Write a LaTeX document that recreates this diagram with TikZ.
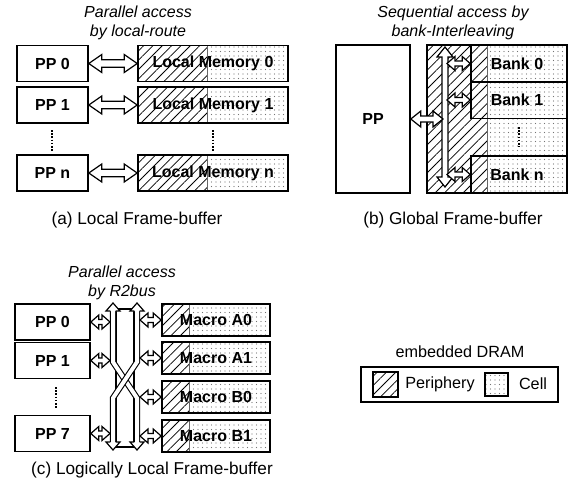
\documentclass[tikz,border=0pt]{standalone}
\usepackage{fontspec}
\setmainfont{Liberation Sans}
\usetikzlibrary{patterns.meta,calc}
\newcommand\myboxfont{\bfseries\fontsize{16}{19}\selectfont}
\newcommand\mytitfont{\itshape\fontsize{16}{19}\selectfont}
\newcommand\mycapfont{\fontsize{17.2}{20}\selectfont}
\newcommand\mytxtfont{\fontsize{16.2}{19}\selectfont}
% horizontal hollow double arrow: from #1 to #2, shaft half #3, head half #4, head length #5
\newcommand\harr[5]{\path[arrline] let \p1=(#1), \p2=(#2) in
  (\x1,\y1) -- (\x1+#5,\y1+#4) -- (\x1+#5,\y1+#3) -- (\x2-#5,\y1+#3) -- (\x2-#5,\y1+#4) -- (\x2,\y1)
  -- (\x2-#5,\y1-#4) -- (\x2-#5,\y1-#3) -- (\x1+#5,\y1-#3) -- (\x1+#5,\y1-#4) -- cycle;}
% vertical hollow double arrow: from top #1 to bottom #2
\newcommand\varr[5]{\path[arrline] let \p1=(#1), \p2=(#2) in
  (\x1,\y1) -- (\x1+#4,\y1-#5) -- (\x1+#3,\y1-#5) -- (\x1+#3,\y2+#5) -- (\x1+#4,\y2+#5) -- (\x1,\y2)
  -- (\x1-#4,\y2+#5) -- (\x1-#3,\y2+#5) -- (\x1-#3,\y1-#5) -- (\x1-#4,\y1-#5) -- cycle;}
\newcommand\uphead[1]{\filldraw[arrline] let \p1=(#1) in (\x1-2.6pt,\y1-8pt) -- (\x1-7pt,\y1-8pt) -- (\x1,\y1) -- (\x1+7pt,\y1-8pt) -- (\x1+2.6pt,\y1-8pt);}
\newcommand\downhead[1]{\filldraw[arrline] let \p1=(#1) in (\x1-2.6pt,\y1+8pt) -- (\x1-7pt,\y1+8pt) -- (\x1,\y1) -- (\x1+7pt,\y1+8pt) -- (\x1+2.6pt,\y1+8pt);}
\tikzset{
  box/.style={draw, line width=1.6pt, inner sep=0pt, font=\myboxfont},
  hatchfill/.style={pattern={Lines[angle=45,distance=6.6pt,line width=0.8pt]}},
  dotfill/.style={pattern={Dots[distance=4.5pt,radius=0.6pt]}, pattern color=black!55},
  arrline/.style={draw, fill=white, line width=1.2pt, line join=miter},
  vdots/.style={line width=2pt, dash pattern=on 1.6pt off 1.6pt},
  sepline/.style={line width=0.5pt, black!60},
  titletext/.style={font=\mytitfont, align=center},
  captext/.style={font=\mycapfont},
  plaintext/.style={font=\mytxtfont},
  busline/.style={line width=1.1pt, double=white, double distance=4pt},
}
\begin{document}
\begin{tikzpicture}[x=1pt,y=-1pt]
\useasboundingbox (0,0) rectangle (568,488);
% ---------------- (a) ----------------
\node[titletext] (ta) at (138,22.5) {Parallel access\\by local-route};
\foreach \i/\yc in {0/63.5,1/105,n/173}{
  \fill[hatchfill] (138,\yc-18) rectangle (207,\yc+18);
  \fill[dotfill] (207,\yc-18) rectangle (288,\yc+18);
  \draw[sepline] (207,\yc-18) -- (207,\yc+18);
  \node[box, minimum width=71pt, minimum height=36pt] (pa\i) at (52.5,\yc) {PP \i};
  \node[box, minimum width=150pt, minimum height=36pt] (ma\i) at (213,\yc) {Local Memory \i};
  \harr{pa\i.east}{ma\i.west}{3.7pt}{9pt}{13pt}
}
\draw[vdots] (52,130) -- (52,152);
\draw[vdots] (213,130) -- (213,152);
\node[captext] (ca) at (137,220) {(a) Local Frame-buffer};
% ---------------- (b) ----------------
\node[titletext] (tb) at (453,22.5) {Sequential access by\\bank-Interleaving};
\node[box, minimum width=74pt, minimum height=148pt] (ppb) at (373,119) {PP};
\fill[hatchfill] (427,45) rectangle (487,193);
\fill[dotfill] (487,45) rectangle (567,193);
\draw[sepline] (487,45) -- (487,193);
\node[box, minimum width=140pt, minimum height=148pt] (gfb) at (497,119) {};
\foreach \i/\yc in {0/63.5,1/100,n/174.5}{
  \node[box, minimum width=96pt, minimum height=37pt] (bank\i) at (519,\yc) {};
  \node[font=\myboxfont] (bl\i) at (517,\yc) {Bank \i};
}
\draw[vdots] (519,127) -- (519,147);
\coordinate (vt) at (445,47);
\coordinate (vb) at (445,187);
\varr{vt}{vb}{3pt}{8pt}{10pt}
\coordinate (vpp) at (443,119);
\harr{ppb.east}{vpp}{3pt}{8pt}{10pt}
\foreach \i in {0,1,n}{
  \coordinate (vb\i) at (bank\i.west -| 447,0);
  \harr{vb\i}{bank\i.west}{2.5pt}{7pt}{8pt}
}
\node[captext] (cb) at (453,220) {(b) Global Frame-buffer};
% ---------------- (c) ----------------
\node[titletext] (tc) at (122,283) {Parallel access\\by R2bus};
\foreach \i/\yc in {0/322,1/360.5,7/433.5}{
  \node[box, minimum width=75pt, minimum height=36pt] (pc\i) at (52.5,\yc) {PP \i};
}
\draw[vdots] (56,387) -- (56,408);
\foreach \m/\yc in {A0/320,A1/358,B0/397,B1/436}{
  \fill[hatchfill] (162,\yc-15.75) rectangle (189,\yc+15.75);
  \fill[dotfill] (189,\yc-15.75) rectangle (270,\yc+15.75);
  \draw[sepline] (189,\yc-15.75) -- (189,\yc+15.75);
  \node[box, minimum width=108pt, minimum height=31.5pt] (mc\m) at (216,\yc) {Macro \m};
}
\node[draw, fill=white, line width=1.2pt, minimum width=18pt, minimum height=138pt, inner sep=0pt] (bus) at (125,378) {};
\draw[busline] (113,310) -- (113,362) -- (137,398) -- (137,443);
\draw[busline] (137,310) -- (137,362) -- (113,398) -- (113,443);
\coordinate (bt1) at (113,303); \coordinate (bt2) at (137,303);
\coordinate (bb1) at (113,450); \coordinate (bb2) at (137,450);
\uphead{bt1} \uphead{bt2} \downhead{bb1} \downhead{bb2}
\foreach \i in {0,1,7}{
  \coordinate (cl\i) at (pc\i.east -| 110,0);
  \harr{pc\i.east}{cl\i}{2.5pt}{7pt}{8pt}
}
\foreach \m in {A0,A1,B0,B1}{
  \coordinate (cr\m) at (mc\m.west -| 140,0);
  \harr{cr\m}{mc\m.west}{2.5pt}{7pt}{8pt}
}
\node[captext] (cc) at (152,470) {(c) Logically Local Frame-buffer};
% ---------------- legend ----------------
\node[plaintext] (legt) at (460,352) {embedded DRAM};
\node[draw, line width=1.5pt, minimum width=197pt, minimum height=35pt, inner sep=0pt] (leg) at (459.5,384.5) {};
\node[draw, line width=1.2pt, hatchfill, minimum size=25pt, inner sep=0pt] (lp) at (385.5,384.5) {};
\node[plaintext] (lpt) at (440,384) {Periphery};
\node[draw, line width=1.2pt, dotfill, minimum size=23pt, inner sep=0pt] (lc) at (496.5,384.5) {};
\node[plaintext] (lct) at (533,384) {Cell};
\end{tikzpicture}
\end{document}
